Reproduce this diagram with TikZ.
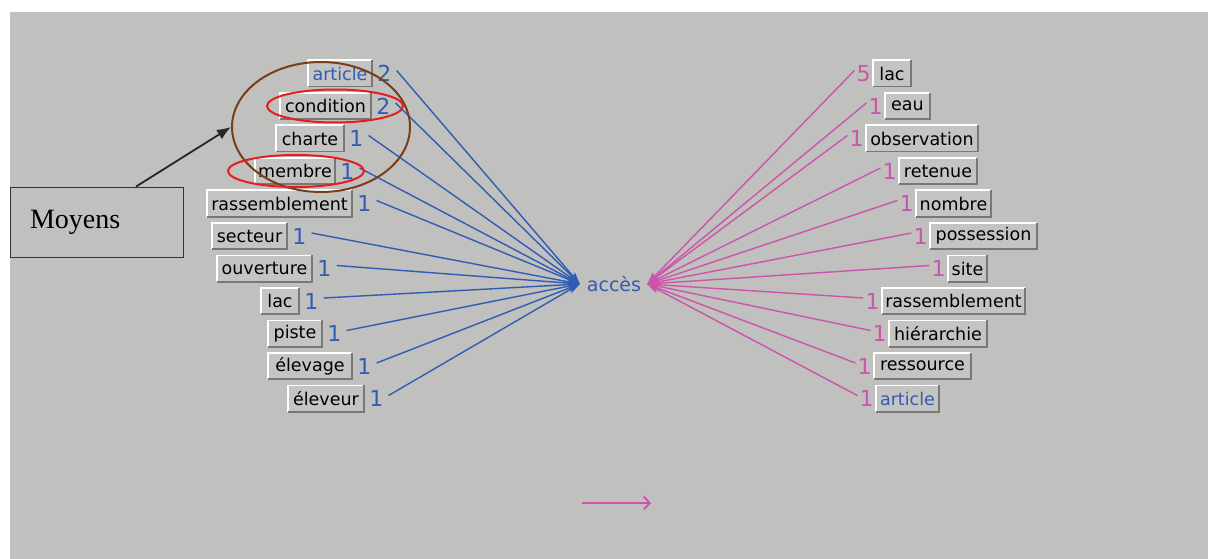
\documentclass[tikz,border=0pt]{standalone}
\usepackage{fontspec}
\setmainfont{DejaVu Sans}
\newfontfamily\timesf{Liberation Serif}
\usetikzlibrary{arrows.meta,shapes.geometric,calc}
\definecolor{bg}{RGB}{192,192,190}
\definecolor{boxbg}{RGB}{196,196,194}
\definecolor{lblue}{RGB}{48,92,180}
\definecolor{lpink}{RGB}{204,84,172}
\definecolor{brownc}{RGB}{120,62,24}
\definecolor{redc}{RGB}{228,30,30}
\definecolor{bevelc}{RGB}{120,120,120}
\begin{document}
\begin{tikzpicture}[x=1pt,y=-1pt,
  wordbox/.style={rectangle, fill=boxbg, inner sep=0pt, minimum height=26pt,
    font=\fontsize{17.5}{20}\selectfont},
  numlbl/.style={inner sep=0pt, font=\fontsize{22}{24}\selectfont},
  hiwhite/.style={draw=white, line width=1.6pt},
  hidark/.style={draw=bevelc, line width=1.6pt},
  blueline/.style={lblue, line width=1.4pt, -{Stealth[length=12pt,width=8pt]}},
  pinkline/.style={lpink, line width=1.4pt, {Stealth[length=12pt,width=8pt]}-},
  ring/.style={ellipse, inner sep=0pt, line width=2pt}]
\useasboundingbox (0,0) rectangle (1208,559);
\fill[white] (0,0) rectangle (1208,559);
\fill[bg] (10,12) rectangle (1208,559);

% central word
\node[inner sep=0pt, text=lblue, font=\fontsize{19}{22}\selectfont] (acc) at (614,284) {accès};
\coordinate (accL) at ([xshift=-7pt]acc.west);
\coordinate (accR) at ([xshift=6pt]acc.east);

% left side
\foreach \i/\t/\l/\r/\n/\c in {1/article/308/372/2/lblue, 2/condition/280/371/2/black, 3/charte/276/344/1/black,
  4/membre/255/335/1/black, 5/rassemblement/207/352/1/black, 6/secteur/212/287/1/black,
  7/ouverture/217/312/1/black, 8/lac/261/299/1/black, 9/piste/268/322/1/black,
  10/élevage/268/352/1/black, 11/éleveur/288/364/1/black}{
  \pgfmathsetmacro\yy{41+32.5*\i}
  \node[wordbox, minimum width=\r-\l, text=\c] (l\i) at ({(\l+\r)/2},\yy) {\t};
  \draw[hiwhite] (l\i.south west) -- (l\i.north west) -- (l\i.north east);
  \draw[hidark] (l\i.north east) -- (l\i.south east) -- (l\i.south west);
  \node[numlbl, text=lblue, anchor=west] (ln\i) at ([xshift=5pt]l\i.east) {\n};
  \draw[blueline] ([shift={(5pt,3pt)}]ln\i.east) -- (accL);
}

% right side
\foreach \i/\t/\l/\r/\n/\c in {1/lac/873/911/5/black, 2/eau/885/930/1/black, 3/observation/866/978/1/black,
  4/retenue/899/977/1/black, 5/nombre/916/991/1/black, 6/possession/930/1037/1/black,
  7/site/948/987/1/black, 8/rassemblement/882/1025/1/black, 9/hiérarchie/889/987/1/black,
  10/ressource/874/971/1/black, 11/article/876/939/1/lblue}{
  \pgfmathsetmacro\yy{41+32.5*\i}
  \node[wordbox, minimum width=\r-\l, text=\c] (r\i) at ({(\l+\r)/2},\yy) {\t};
  \draw[hiwhite] (r\i.south west) -- (r\i.north west) -- (r\i.north east);
  \draw[hidark] (r\i.north east) -- (r\i.south east) -- (r\i.south west);
  \node[numlbl, text=lpink, anchor=east] (rn\i) at ([xshift=-2pt]r\i.west) {\n};
  \draw[pinkline] (accR) -- ([shift={(-2pt,3pt)}]rn\i.west);
}

% annotation ellipses
\node[ring, draw=brownc, minimum width=178pt, minimum height=130pt] (grp) at (321,127) {};
\node[ring, draw=redc, minimum width=136pt, minimum height=33pt] (ecnd) at (335,106) {};
\node[ring, draw=redc, minimum width=136pt, minimum height=32pt] (embr) at (296,171) {};

% Moyens box and arrow
\node[draw=black!80, line width=0.8pt, fill=bg, minimum width=173pt, minimum height=70pt,
  text width=133pt, inner xsep=20pt, align=left,
  font=\timesf\fontsize{28}{32}\selectfont] (moy) at (96.5,222) {Moyens};
\draw[black!85, line width=1.8pt, -{Latex[length=14pt,width=11pt]}] ([xshift=39.5pt]moy.north) -- (grp.west);

% bottom arrow
\coordinate (ba) at (582,503);
\coordinate (bb) at (651,503);
\draw[lpink, line width=1.8pt, -{Straight Barb[length=6pt,width=13pt]}] (ba) -- (bb);
\end{tikzpicture}
\end{document}
